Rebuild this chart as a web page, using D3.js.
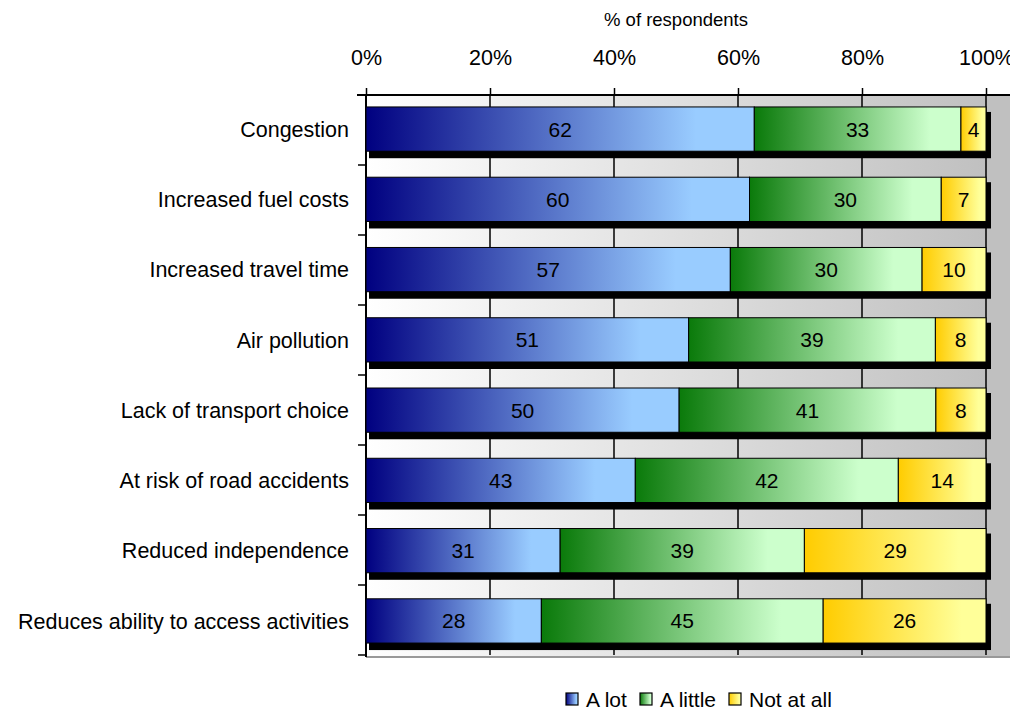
<!DOCTYPE html>
<html>
<head>
<meta charset="utf-8">
<script src="https://cdn.jsdelivr.net/npm/d3@7"></script>
<style>
    body { margin: 0; background: #fff; }
    text { font-family: "Liberation Sans", Arial, sans-serif; }
</style>
</head>
<body>
<div id="chart"></div>
<script>
// Chart values
var categories = ["Congestion", "Increased fuel costs", "Increased travel time", "Air pollution",
    "Lack of transport choice", "At risk of road accidents", "Reduced independence",
    "Reduces ability to access activities"];
var seriesNames = ["A lot", "A little", "Not at all"];
var aLot = [62, 60, 57, 51, 50, 43, 31, 28];
var aLittle = [33, 30, 30, 39, 41, 42, 39, 45];
var notAtAll = [4, 7, 10, 8, 8, 14, 29, 26];
var tickValues = [0, 20, 40, 60, 80, 100];

class StackedBars {

    constructor() {
        // Dimensions of the plot area
        this.left = 366;
        this.right = 986;
        this.top = 95;
        this.bottom = 655;
        this.fullWidth = 1010;
        this.height = 710;
        // gradient stops for each series: dark on the left, light on the right
        this.palette = [["#000080", "#99ccff"], ["#0a7a0a", "#ccffcc"], ["#ffcc00", "#ffff99"]];
    }

    create_gradients(defs) {
        this.palette.forEach(function (p, i) {
            var g = defs.append("linearGradient").attr("id", "grad" + i)
                .attr("x1", "0%").attr("x2", "100%").attr("y1", "0%").attr("y2", "0%");
            g.append("stop").attr("offset", "0%").attr("stop-color", p[0]);
            g.append("stop").attr("offset", "85%").attr("stop-color", p[1]);
            g.append("stop").attr("offset", "100%").attr("stop-color", p[1]);
        });

        // background of the plot area
        var bg = defs.append("linearGradient").attr("id", "bggrad")
            .attr("gradientUnits", "userSpaceOnUse")
            .attr("x1", this.left).attr("x2", this.right).attr("y1", 0).attr("y2", 0);
        bg.append("stop").attr("offset", "0%").attr("stop-color", "#ffffff");
        bg.append("stop").attr("offset", "100%").attr("stop-color", "#c0c0c0");
    }

    render() {
        var self = this;
        var svg = d3.select("#chart").append("svg")
            .attr("width", this.fullWidth)
            .attr("height", this.height);
        this.create_gradients(svg.append("defs"));

        var x = d3.scaleLinear().domain([0, 100]).range([this.left, this.right]);
        var y = d3.scaleBand().domain(categories).range([this.top, this.bottom]).paddingInner(0.37).paddingOuter(0.17);

        // Background panel
        svg.append("rect")
            .attr("x", this.left).attr("y", this.top)
            .attr("width", this.fullWidth - this.left).attr("height", this.bottom - this.top + 2)
            .style("fill", "url(#bggrad)");

        // vertical gridlines
        svg.selectAll(".grid").data(tickValues.slice(1)).enter().append("line")
            .attr("x1", function (d) { return x(d); }).attr("x2", function (d) { return x(d); })
            .attr("y1", this.top).attr("y2", this.bottom)
            .style("stroke", "#000").style("stroke-width", 1.5);

        // bottom border of plot area
        svg.append("line")
            .attr("x1", this.left).attr("x2", this.fullWidth)
            .attr("y1", this.bottom + 2).attr("y2", this.bottom + 2)
            .style("stroke", "#999").style("stroke-width", 2);

        // Top axis
        var xAxis = d3.axisTop(x).tickValues(tickValues).tickSize(7).tickPadding(23)
            .tickFormat(function (d) { return d + "%"; });
        var gx = svg.append("g").attr("transform", "translate(0," + this.top + ")").call(xAxis);
        gx.select(".domain").remove();
        gx.selectAll(".tick line").style("stroke", "#000").style("stroke-width", 1.5);
        gx.selectAll(".tick text").style("font-size", "21.5px").style("fill", "#000")
            .style("font-family", "Liberation Sans, Arial, sans-serif");
        svg.append("line")
            .attr("x1", this.left - 9).attr("x2", this.fullWidth)
            .attr("y1", this.top).attr("y2", this.top)
            .style("stroke", "#000").style("stroke-width", 2);

        svg.append("text")
            .attr("x", 676).attr("y", 26)
            .attr("text-anchor", "middle").style("font-size", "18.5px")
            .text("% of respondents");

        // Left axis: line, ticks between categories, labels
        svg.append("line")
            .attr("x1", this.left).attr("x2", this.left)
            .attr("y1", this.top).attr("y2", this.bottom + 2)
            .style("stroke", "#000").style("stroke-width", 2);
        var bandTicks = d3.range(categories.length + 1).map(function (i) { return self.top + i * (self.bottom - self.top) / categories.length; });
        svg.selectAll(".ytick").data(bandTicks).enter().append("line")
            .attr("x1", this.left - 8).attr("x2", this.left)
            .attr("y1", function (d) { return d; }).attr("y2", function (d) { return d; })
            .style("stroke", "#000").style("stroke-width", 1.5);
        svg.selectAll(".ylabel").data(categories).enter().append("text")
            .attr("x", this.left - 17)
            .attr("y", function (d) { return y(d) + y.bandwidth() / 2; })
            .attr("dy", "0.36em")
            .attr("text-anchor", "end")
            .style("font-size", "21.5px")
            .text(function (d) { return d; });

        // Build stacked, normalized rows
        var rows = categories.map(function (c, i) {
            var vals = [aLot[i], aLittle[i], notAtAll[i]];
            var total = d3.sum(vals);
            var acc = 0;
            return vals.map(function (v, k) {
                var seg = { cat: c, k: k, v: v, x0: acc / total * 100, x1: (acc + v) / total * 100 };
                acc += v;
                return seg;
            });
        });

        // Shadows behind each bar
        svg.selectAll(".shadow").data(categories).enter().append("rect")
            .attr("x", x(0) + 3).attr("y", function (d) { return y(d) + 5; })
            .attr("width", x(100) - x(0) + 2).attr("height", y.bandwidth() + 2)
            .style("fill", "#000");

        // Bar segments
        var segs = svg.selectAll(".seg").data(d3.merge(rows)).enter();
        segs.append("rect")
            .attr("x", function (d) { return x(d.x0); })
            .attr("y", function (d) { return y(d.cat); })
            .attr("width", function (d) { return x(d.x1) - x(d.x0); })
            .attr("height", y.bandwidth())
            .style("fill", function (d) { return "url(#grad" + d.k + ")"; })
            .style("stroke", "#000").style("stroke-width", 1);
        segs.append("text")
            .attr("x", function (d) { return (x(d.x0) + x(d.x1)) / 2; })
            .attr("y", function (d) { return y(d.cat) + y.bandwidth() / 2; })
            .attr("dy", "0.36em")
            .attr("text-anchor", "middle")
            .style("font-size", "21px")
            .text(function (d) { return d.v; });

        this.create_legend(svg);
    }

    create_legend(svg) {
        var items = [{ x: 566, k: 0 }, { x: 640, k: 1 }, { x: 729, k: 2 }];
        items.forEach(function (it) {
            svg.append("rect")
                .attr("x", it.x).attr("y", 693).attr("width", 12).attr("height", 12)
                .style("fill", "url(#grad" + it.k + ")")
                .style("stroke", "#000").style("stroke-width", 1.2);
            svg.append("text")
                .attr("x", it.x + 20).attr("y", 707)
                .style("font-size", "21px")
                .text(seriesNames[it.k]);
        });
    }
}

new StackedBars().render();
</script>
</body>
</html>
